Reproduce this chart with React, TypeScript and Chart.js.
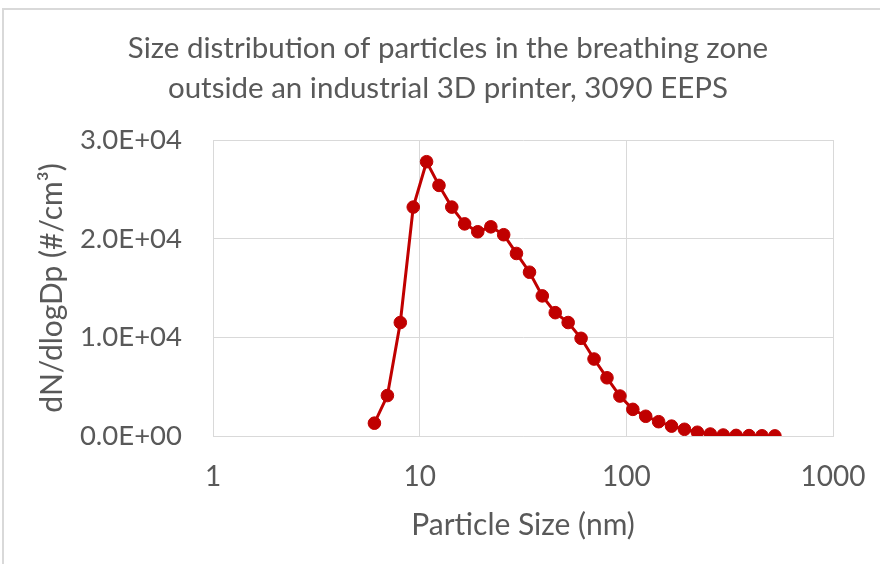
import React, { useEffect, useRef } from "react";
import { Chart, registerables } from "chart.js";

Chart.register(...registerables);

const titleLines = [
  "Size distribution of particles in the breathing zone",
  "outside an industrial 3D printer, 3090 EEPS",
];
const xAxisTitle = "Particle Size (nm)";
const yAxisTitle = "dN/dlogDp (#/cm\u00B3)";

const particleSizes = [
  6.04, 6.98, 8.06, 9.31, 10.8, 12.4, 14.3, 16.5, 19.1, 22.1, 25.5, 29.4, 34.0,
  39.2, 45.3, 52.3, 60.4, 69.8, 80.6, 93.1, 107.5, 124.1, 143.3, 165.5, 191.1,
  220.7, 254.8, 294.3, 339.8, 392.4, 453.2, 523.3,
];
const concentrations = [
  1300, 4100, 11500, 23200, 27800, 25400, 23200, 21500, 20700, 21200, 20400,
  18500, 16600, 14200, 12500, 11500, 9900, 7800, 5900, 4050, 2700, 2000, 1450,
  1000, 680, 380, 200, 100, 60, 40, 20, 10,
];
const xTickValues = [1, 10, 100, 1000];
const yTickValues = [0, 10000, 20000, 30000];

const TEXT = "#595959";
const GRID = "#D9D9D9";
const RED = "#C00000";
const FONT = "Lato";

function sci(v: number): string {
  if (v === 0) return "0.0E+00";
  const e = Math.floor(Math.log10(Math.abs(v)));
  const m = v / Math.pow(10, e);
  const es = (e < 0 ? "-" : "+") + String(Math.abs(e)).padStart(2, "0");
  return m.toFixed(1) + "E" + es;
}

export default function App() {
  const ref = useRef<HTMLCanvasElement | null>(null);

  useEffect(() => {
    document.body.style.margin = "0";
    document.body.style.overflow = "hidden";
    const canvas = ref.current;
    if (!canvas) return;
    const chart = new Chart(canvas, {
      type: "line",
      data: {
        datasets: [
          {
            data: particleSizes.map((x, i) => ({ x, y: concentrations[i] })),
            borderColor: RED,
            backgroundColor: RED,
            borderWidth: 3,
            pointRadius: 6.3,
            pointBorderWidth: 1,
            pointBackgroundColor: RED,
            pointBorderColor: RED,
            tension: 0,
          },
        ],
      },
      options: {
        animation: false,
        responsive: true,
        maintainAspectRatio: false,
        layout: { padding: { left: 63, right: 47, top: 0, bottom: 0 } },
        plugins: {
          legend: { display: false },
          tooltip: { enabled: false },
          title: {
            display: true,
            text: titleLines,
            color: TEXT,
            font: { family: FONT, size: 29.5, weight: "normal", lineHeight: 1.356 },
            padding: { top: 28, bottom: 32 },
          },
        },
        scales: {
          x: {
            type: "logarithmic",
            min: 1,
            max: 1000,
            afterFit: (s: any) => {
              s.height = 128;
            },
            afterBuildTicks: (s: any) => {
              s.ticks = xTickValues.map((v) => ({ value: v }));
            },
            border: { display: true, color: GRID, width: 1 },
            grid: {
              color: GRID,
              drawTicks: true,
              tickLength: 24,
              tickColor: "rgba(0,0,0,0)",
              lineWidth: 1,
            },
            ticks: {
              color: TEXT,
              font: { family: FONT, size: 28 },
              padding: 0,
              maxRotation: 0,
              autoSkip: false,
              callback: (v: any) => String(v),
            },
            title: {
              display: true,
              text: xAxisTitle,
              color: TEXT,
              font: { family: FONT, size: 30 },
              padding: { top: 0, bottom: 21 },
            },
          },
          y: {
            min: 0,
            max: 30000,
            afterFit: (s: any) => {
              s.width = 150;
            },
            afterBuildTicks: (s: any) => {
              s.ticks = yTickValues.map((v) => ({ value: v }));
            },
            border: { display: true, color: GRID, width: 1 },
            grid: { color: GRID, drawTicks: false, lineWidth: 1 },
            ticks: {
              color: TEXT,
              font: { family: FONT, size: 27.5 },
              padding: 31,
              callback: (v: any) => sci(Number(v)),
            },
            title: {
              display: true,
              text: yAxisTitle,
              color: TEXT,
              font: { family: FONT, size: 30 },
              padding: { top: -29, bottom: 0 },
            },
          },
        },
      },
    });
    return () => chart.destroy();
  }, []);

  return (
    <div style={{ position: "relative", width: 880, height: 564, overflow: "hidden", background: "#fff" }}>
      <div
        style={{
          position: "absolute",
          left: 2,
          top: 8,
          width: 1000,
          height: 1000,
          borderTop: "2px solid #D9D9D9",
          borderLeft: "2px solid #D9D9D9",
        }}
      />
      <div style={{ position: "absolute", left: 0, top: 0, width: 880, height: 564 }}>
        <canvas ref={ref} />
      </div>
    </div>
  );
}
